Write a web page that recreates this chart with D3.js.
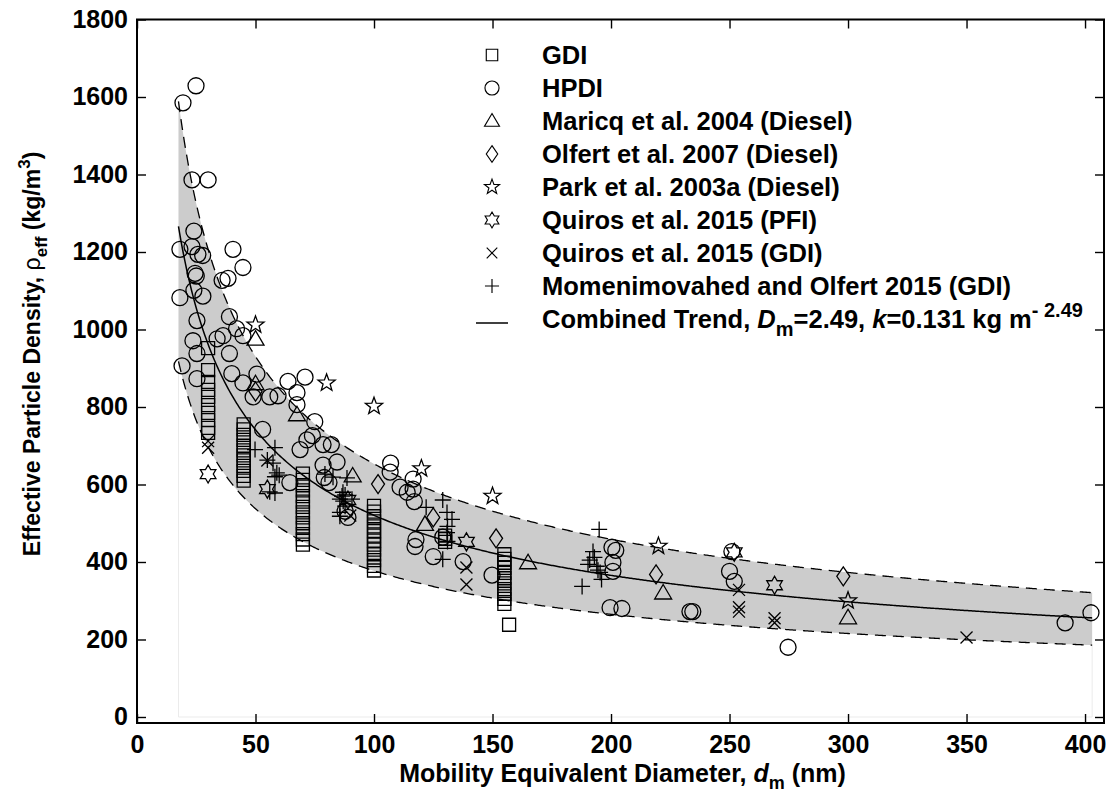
<!DOCTYPE html>
<html>
<head>
<meta charset="utf-8">
<script src="https://cdn.jsdelivr.net/npm/d3@7"></script>
<style>
  body { margin: 0; background: #fff; }
  svg text { font-family: "Liberation Sans", Arial, sans-serif; font-weight: bold; fill: #000; }
</style>
</head>
<body>
<svg id="chart" width="1108" height="802"></svg>
<script>
// data: [mobility diameter (nm), effective density (kg/m3)]
const gdiData = [
  [30, 952], [30, 895], [30, 865], [30, 844], [30, 826], [30, 805], [30, 785], [30, 766], [30, 746], [30, 733],
  [45, 755], [45, 742], [45, 728], [45, 715], [45, 700], [45, 688], [45, 675], [45, 662], [45, 648], [45, 635], [45, 622], [45, 610],
  [70, 628], [70, 612], [70, 598], [70, 585], [70, 570], [70, 556], [70, 542], [70, 528], [70, 515], [70, 500], [70, 488], [70, 472], [70, 458], [70, 445],
  [100, 545], [100, 530], [100, 518], [100, 505], [100, 492], [100, 480], [100, 468], [100, 455], [100, 445], [100, 432], [100, 420], [100, 405], [100, 390], [100, 378],
  [130, 468], [130, 460], [130, 452],
  [155, 420], [155, 408], [155, 398], [155, 385], [155, 372], [155, 358], [155, 345], [155, 330], [155, 318], [155, 305], [155, 292],
  [157, 238],
];

const hpdiData = [
  [19.4, 1585], [24.9, 1629], [23.2, 1386], [30, 1386], [24, 1254], [18.1, 1207], [23.2, 1214], [25.7, 1194],
  [27.7, 1191], [40.5, 1207], [44.7, 1160], [24.5, 1145], [25, 1138], [35.9, 1127], [38.4, 1132], [18.1, 1082],
  [24, 1101], [27.8, 1086], [25.3, 1023], [39, 1033], [42, 1002], [36.3, 984], [33.8, 976], [23.6, 971],
  [44.7, 984], [19, 906], [25.3, 938], [25.3, 873], [39, 938], [40, 886], [44.7, 862], [50.6, 885], [49, 826],
  [56, 826], [59.5, 829], [63.7, 866], [70.9, 877], [67.5, 837], [67.5, 806], [75, 762], [74, 726], [71.7, 715],
  [78.5, 703], [82, 703], [68.8, 690], [78.5, 650], [84.4, 658], [53, 742], [79, 618], [81, 605], [64.5, 605],
  [89, 515], [87.8, 531], [107, 655], [106.8, 632], [111, 593], [116.5, 614], [116.5, 588], [117, 556], [114, 580],
  [117.7, 458], [117.3, 440], [125, 414], [137.6, 401], [149.8, 366], [129, 464],
  [200.4, 438], [202, 430], [200.8, 399], [200.8, 376], [199.6, 282], [204.6, 280], [233.3, 272], [234.5, 272],
  [251, 427], [250, 376], [252, 350], [274.7, 180], [391.6, 243], [402.5, 269],
];

const maricqData = [[50, 975], [50, 860], [67.5, 780], [91, 622], [121.5, 497], [165, 398], [222, 320], [300, 256]];
const olfertData = [[50, 840], [101.7, 601], [125, 515], [151.5, 461], [219, 368], [298, 363]];
const parkData = [[50, 1012], [80, 862], [100, 802], [120, 641], [150, 570], [220, 441], [300, 300]];
const quirosPfiData = [[30, 627], [55, 588], [89, 560], [139, 452], [252, 425], [269, 340]];
const quirosGdiData = [
  [30, 712], [30, 695], [55, 662], [90, 520], [139, 386], [139, 342],
  [254, 328], [254, 283], [254, 272], [269, 255], [269, 243], [350, 205],
];
const momeniData = [
  [49.8, 690], [58.2, 695], [55, 663], [57.4, 655], [59, 630], [58.2, 620], [56, 581], [58.2, 578], [60, 624],
  [79.3, 627], [82.7, 619], [88.6, 617], [86.5, 570], [87, 557], [87.8, 544], [85.6, 528], [90.7, 562],
  [87.8, 573], [85.6, 562], [86.9, 580], [85.6, 518],
  [122, 541], [129, 560], [130.8, 528], [132.9, 510], [130.8, 476], [131, 453], [129, 407], [131, 492],
  [195, 484], [192.4, 427], [190.3, 394], [194, 389], [195.4, 373], [196, 355], [187.8, 337], [193, 412],
  [191, 405], [194.5, 379],
];

// combined power-law trend (exponent Dm - 3) and its band
const TREND_DM = 2.49;
const TREND_PREFACTOR = 5450;
const BAND_UPPER = 1.255;
const BAND_LOWER = 0.725;
const TREND_RANGE = [17.5, 403];

const xTicks = [0, 50, 100, 150, 200, 250, 300, 350, 400];
const yTicks = [0, 200, 400, 600, 800, 1000, 1200, 1400, 1600, 1800];

const seriesList = [
  { label: 'GDI', shape: 'square', data: gdiData },
  { label: 'HPDI', shape: 'circle', data: hpdiData },
  { label: 'Maricq et al. 2004 (Diesel)', shape: 'triangle', data: maricqData },
  { label: 'Olfert et al. 2007 (Diesel)', shape: 'diamond', data: olfertData },
  { label: 'Park et al. 2003a (Diesel)', shape: 'star5', data: parkData },
  { label: 'Quiros et al. 2015 (PFI)', shape: 'star6', data: quirosPfiData },
  { label: 'Quiros et al. 2015 (GDI)', shape: 'times', data: quirosGdiData },
  { label: 'Momenimovahed and Olfert 2015 (GDI)', shape: 'plus', data: momeniData },
];

const starPath = (points, rOut, rIn) => {
  const pts = d3.range(points * 2).map(i => {
    const r = i % 2 ? rIn : rOut;
    const a = -Math.PI / 2 + i * Math.PI / points;
    return [r * Math.cos(a), r * Math.sin(a)];
  });
  return 'M' + pts.map(p => p.join(',')).join('L') + 'Z';
};

const shapePaths = {
  square: 'M-6.5,-6.5H6.5V6.5H-6.5Z',
  circle: 'M8,0A8,8 0 1,1 -8,0A8,8 0 1,1 8,0Z',
  triangle: 'M0,-8.5L8.5,6L-8.5,6Z',
  diamond: 'M0,-9.5L6.5,0L0,9.5L-6.5,0Z',
  star5: starPath(5, 9, 3.7),
  star6: starPath(6, 9, 5.2),
  times: 'M-6,-6L6,6M-6,6L6,-6',
  plus: 'M-8,0H8M0,-8V8',
};

const svg = d3.select('#chart');

const margin = { left: 137, right: 4, top: 19.5, bottom: 79 };
const svgW = +svg.attr('width');
const svgH = +svg.attr('height');

const x = d3.scaleLinear().domain([0, 408]).range([margin.left, svgW - margin.right]);
const y = d3.scaleLinear().domain([-15.5, 1800]).range([svgH - margin.bottom, margin.top]);

// grey band between the dashed bounds
const bandD = d3.range(TREND_RANGE[0], TREND_RANGE[1], 0.5).concat([TREND_RANGE[1]]);
const trendAt = d => TREND_PREFACTOR * Math.pow(d, TREND_DM - 3);

svg.append('path')
  .datum(bandD)
  .attr('d', d3.area()
    .x(d => x(d))
    .y0(d => y(trendAt(d) * BAND_LOWER))
    .y1(d => y(trendAt(d) * BAND_UPPER)))
  .style('fill', '#cccccc');

// faint outline left by the band fill down to zero
svg.append('path')
  .attr('d', d3.line()([
    [x(TREND_RANGE[0]), y(trendAt(TREND_RANGE[0]) * BAND_LOWER)],
    [x(TREND_RANGE[0]), y(0)],
    [x(TREND_RANGE[1]), y(0)],
    [x(TREND_RANGE[1]), y(trendAt(TREND_RANGE[1]) * BAND_LOWER)],
  ]))
  .style('fill', 'none')
  .style('stroke', '#ebebeb')
  .style('stroke-width', 1);

[BAND_UPPER, BAND_LOWER].forEach(f => {
  svg.append('path')
    .datum(bandD)
    .attr('d', d3.line().x(d => x(d)).y(d => y(trendAt(d) * f)))
    .style('fill', 'none')
    .style('stroke', '#000')
    .style('stroke-width', 1.3)
    .style('stroke-dasharray', '11,7');
});

svg.append('path')
  .datum(bandD)
  .attr('d', d3.line().x(d => x(d)).y(d => y(trendAt(d))))
  .style('fill', 'none')
  .style('stroke', '#000')
  .style('stroke-width', 1.5);

// markers
seriesList.forEach(s => {
  svg.append('g')
    .selectAll('path')
    .data(s.data)
    .enter()
    .append('path')
      .attr('transform', d => `translate(${x(d[0])},${y(d[1])})`)
      .attr('d', shapePaths[s.shape])
      .style('fill', 'none')
      .style('stroke', '#000')
      .style('stroke-width', 1.3);
});

// axes, ticks pointing inward on all four sides
const plotTop = margin.top;
const plotBottom = svgH - margin.bottom;
const plotLeft = margin.left;
const plotRight = svgW - margin.right;

const styleAxis = g => {
  g.select('.domain').remove();
  g.selectAll('.tick line').style('stroke', '#000').style('stroke-width', 1.4);
  g.selectAll('.tick text')
    .style('font-size', '25px')
    .style('font-family', '"Liberation Sans", Arial, sans-serif')
    .style('font-weight', 'bold');
};

svg.append('g')
  .attr('transform', `translate(0,${plotBottom})`)
  .call(d3.axisBottom(x).tickValues(xTicks).tickFormat(d3.format('d'))
    .tickSizeInner(-9).tickSizeOuter(0).tickPadding(12))
  .call(styleAxis);

svg.append('g')
  .attr('transform', `translate(0,${plotTop})`)
  .call(d3.axisTop(x).tickValues(xTicks).tickSizeInner(-9).tickSizeOuter(0).tickFormat(''))
  .call(styleAxis);

svg.append('g')
  .attr('transform', `translate(${plotLeft},0)`)
  .call(d3.axisLeft(y).tickValues(yTicks).tickFormat(d3.format('d'))
    .tickSizeInner(-9).tickSizeOuter(0).tickPadding(9))
  .call(styleAxis);

svg.append('g')
  .attr('transform', `translate(${plotRight},0)`)
  .call(d3.axisRight(y).tickValues(yTicks).tickSizeInner(-9).tickSizeOuter(0).tickFormat(''))
  .call(styleAxis);

svg.append('rect')
  .attr('x', plotLeft)
  .attr('y', plotTop)
  .attr('width', plotRight - plotLeft)
  .attr('height', plotBottom - plotTop)
  .style('fill', 'none')
  .style('stroke', '#000')
  .style('stroke-width', 2);

// axis titles
const xTitle = svg.append('text')
  .attr('x', (plotLeft + plotRight) / 2 + 2)
  .attr('y', 782)
  .attr('text-anchor', 'middle')
  .style('font-size', '25px');
xTitle.append('tspan').text('Mobility Equivalent Diameter, ');
xTitle.append('tspan').style('font-style', 'italic').text('d');
xTitle.append('tspan').attr('dy', 7).style('font-size', '18px').text('m');
xTitle.append('tspan').attr('dy', -7).text(' (nm)');

const yTitle = svg.append('text')
  .attr('transform', `translate(40,354) rotate(-90)`)
  .attr('text-anchor', 'middle')
  .style('font-size', '23px');
yTitle.append('tspan').text('Effective Particle Density, ');
yTitle.append('tspan').style('font-weight', 'normal').text('ρ');
yTitle.append('tspan').attr('dy', 7).style('font-size', '17px').text('eff');
yTitle.append('tspan').attr('dy', -7).text(' (kg/m');
yTitle.append('tspan').attr('dy', -10).style('font-size', '17px').text('3');
yTitle.append('tspan').attr('dy', 10).text(')');

// legend
const legendX = 492;
const legendTextX = 542;
const legendY0 = 55;
const legendStep = 33;

const legend = svg.append('g');

seriesList.forEach((s, i) => {
  const cy = legendY0 + i * legendStep;
  legend.append('path')
    .attr('transform', `translate(${legendX},${cy}) scale(0.88)`)
    .attr('d', shapePaths[s.shape])
    .style('fill', 'none')
    .style('stroke', '#000')
    .style('stroke-width', 1.3);
  legend.append('text')
    .attr('x', legendTextX)
    .attr('y', cy + 9)
    .style('font-size', '25.5px')
    .text(s.label);
});

const trendY = legendY0 + seriesList.length * legendStep;
legend.append('line')
  .attr('x1', legendX - 16)
  .attr('x2', legendX + 16)
  .attr('y1', trendY + 4)
  .attr('y2', trendY + 4)
  .style('stroke', '#000')
  .style('stroke-width', 1.5);

const trendText = legend.append('text')
  .attr('x', legendTextX)
  .attr('y', trendY + 9)
  .style('font-size', '25.5px');
trendText.append('tspan').text('Combined Trend, ');
trendText.append('tspan').style('font-style', 'italic').text('D');
trendText.append('tspan').attr('dy', 8).style('font-size', '20px').text('m');
trendText.append('tspan').attr('dy', -8).text(`=${TREND_DM}, `);
trendText.append('tspan').style('font-style', 'italic').text('k');
trendText.append('tspan').text('=0.131 kg m');
trendText.append('tspan').attr('dy', -11).style('font-size', '20px').text(`- ${TREND_DM}`);
</script>
</body>
</html>
